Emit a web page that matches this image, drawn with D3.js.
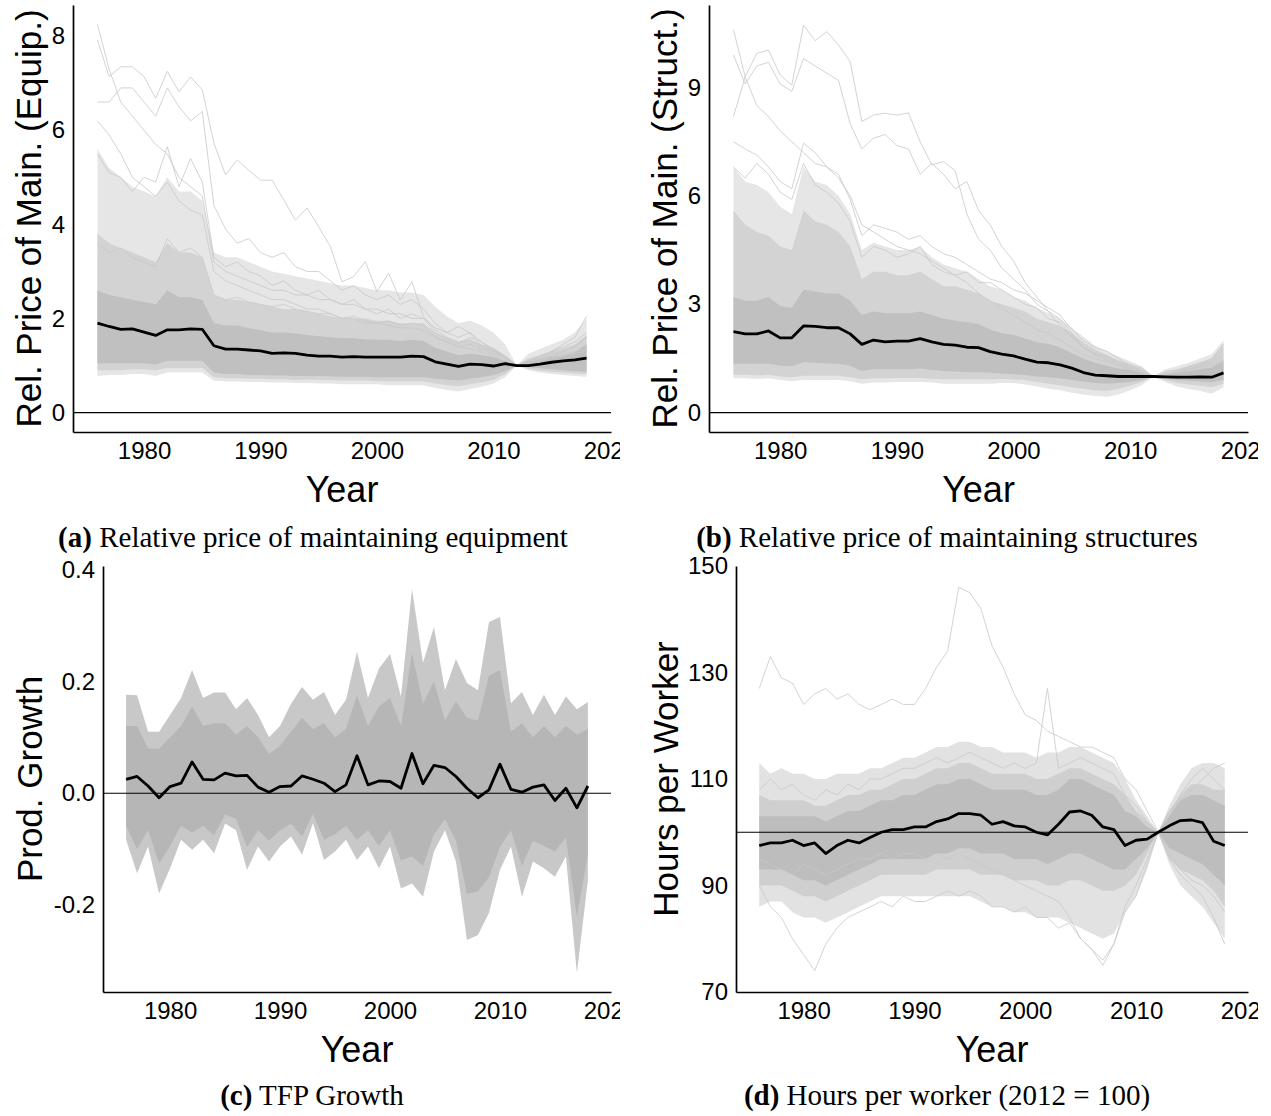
<!DOCTYPE html>
<html><head><meta charset="utf-8">
<script src="https://cdn.jsdelivr.net/npm/d3@7"></script>
<style>body{margin:0;background:#fff} svg{display:block}</style>
</head><body>
<svg id="chart" width="1271" height="1116"></svg>
<script>
// ---------- DATA ----------
const years = [1976,1977,1978,1979,1980,1981,1982,1983,1984,1985,1986,1987,1988,1989,1990,1991,1992,1993,1994,1995,1996,1997,1998,1999,2000,2001,2002,2003,2004,2005,2006,2007,2008,2009,2010,2011,2012,2013,2014,2015,2016,2017,2018];
const xTicks = [1980,1990,2000,2010,2020];
const yTicksA = [0,2,4,6,8];
const yTicksB = [0,3,6,9];
const yTicksC = [-0.2,0.0,0.2,0.4];
const yTicksD = [70,90,110,130,150];

// (a) equipment: cross-industry mean, spread bands (outer / middle / core) and a few individual industries
const meanA = [1.90,1.83,1.77,1.78,1.71,1.64,1.76,1.76,1.78,1.77,1.42,1.35,1.35,1.33,1.31,1.26,1.27,1.26,1.22,1.20,1.20,1.18,1.19,1.18,1.18,1.18,1.18,1.20,1.19,1.08,1.03,0.98,1.03,1.02,0.99,1.04,1.00,1.00,1.03,1.07,1.10,1.12,1.16];
const envLoA = [0.78,0.80,0.80,0.82,0.82,0.78,0.85,0.85,0.85,0.85,0.68,0.66,0.66,0.65,0.65,0.64,0.64,0.63,0.63,0.62,0.62,0.60,0.60,0.60,0.60,0.58,0.58,0.58,0.58,0.52,0.48,0.45,0.50,0.55,0.62,0.75,1.00,0.90,0.85,0.82,0.80,0.78,0.76];
const envHiA = [5.6,5.2,5.0,4.8,4.7,4.6,5.0,4.7,4.7,4.5,3.4,3.3,3.3,3.2,3.1,3.0,2.95,2.9,2.85,2.8,2.75,2.7,2.7,2.65,2.6,2.6,2.55,2.55,2.5,2.25,2.05,1.9,1.95,1.85,1.7,1.45,1.0,1.25,1.35,1.45,1.55,1.7,2.0];
const midLoA = [0.9,0.9,0.9,0.92,0.92,0.9,0.95,0.95,0.95,0.95,0.75,0.73,0.73,0.72,0.72,0.71,0.71,0.7,0.7,0.7,0.69,0.68,0.68,0.68,0.67,0.66,0.66,0.66,0.66,0.62,0.58,0.56,0.6,0.64,0.7,0.82,1.0,0.93,0.89,0.87,0.85,0.83,0.82];
const midHiA = [3.8,3.6,3.5,3.4,3.3,3.2,3.6,3.4,3.4,3.3,2.5,2.4,2.4,2.35,2.3,2.25,2.2,2.2,2.15,2.1,2.05,2.0,2.0,2.0,1.95,1.95,1.9,1.9,1.9,1.7,1.6,1.5,1.55,1.45,1.38,1.22,1.0,1.15,1.22,1.3,1.38,1.45,1.65];
const coreLoA = [1.05,1.05,1.05,1.05,1.05,1.02,1.10,1.10,1.10,1.10,0.85,0.82,0.82,0.80,0.80,0.79,0.79,0.78,0.78,0.78,0.77,0.76,0.76,0.76,0.75,0.75,0.75,0.75,0.75,0.72,0.70,0.68,0.72,0.75,0.80,0.88,1.00,0.97,0.94,0.92,0.90,0.88,0.87];
const coreHiA = [2.6,2.5,2.45,2.4,2.35,2.3,2.6,2.45,2.45,2.4,1.9,1.85,1.85,1.8,1.75,1.7,1.7,1.68,1.65,1.62,1.6,1.58,1.58,1.56,1.55,1.55,1.52,1.55,1.52,1.38,1.3,1.22,1.25,1.22,1.18,1.1,1.0,1.08,1.13,1.18,1.22,1.28,1.45];
const indA1 = [8.25,7.3,6.6,6.3,6.0,5.7,5.5,5.0,4.8,4.6,3.2,3.0,2.9,2.8,2.7,2.6,2.6,2.5,2.5,2.4,2.4,2.3,2.3,2.2,2.2,2.1,2.1,2.0,2.0,1.8,1.7,1.83,1.69,1.4,1.3,1.15,1.0,1.05,1.1,1.15,1.2,1.25,1.3];
const indA2 = [7.92,7.14,7.35,7.35,7.14,6.68,7.25,6.82,7.13,6.86,5.73,5.05,5.37,5.15,4.94,4.94,4.52,4.09,4.35,3.95,3.53,2.78,2.89,3.21,2.57,2.96,2.39,2.78,2.04,1.76,1.6,1.5,1.55,1.4,1.3,1.2,1.0,1.1,1.2,1.3,1.4,1.5,1.7];
const indA3 = [6.6,6.6,6.9,6.9,6.6,6.3,6.9,6.5,6.2,6.4,4.4,3.9,3.6,3.7,3.4,3.3,3.4,3.1,3.0,3.0,2.8,2.6,2.7,2.5,2.4,2.5,2.3,2.4,2.2,1.9,1.7,1.6,1.7,1.5,1.3,1.2,1.0,1.1,1.15,1.2,1.25,1.3,1.35];
const indA4 = [6.2,5.9,5.5,5.0,4.8,4.6,4.9,4.5,4.3,4.2,3.0,2.8,2.7,2.6,2.5,2.4,2.4,2.3,2.2,2.2,2.1,2.0,2.0,1.9,1.9,1.85,1.8,1.8,1.75,1.6,1.5,1.4,1.35,1.3,1.2,1.1,1.0,1.05,1.1,1.2,1.3,1.4,1.6];
const indA5 = [5.5,5.1,5.0,4.7,5.0,4.9,5.65,4.8,5.4,4.9,3.3,3.1,3.2,3.0,2.9,2.7,2.8,2.6,2.5,2.6,2.4,2.3,2.4,2.2,2.1,2.2,2.0,2.1,2.0,1.7,1.55,1.45,1.6,1.5,1.35,1.2,1.0,1.1,1.2,1.3,1.45,1.6,2.05];
const indA6 = [3.6,3.4,3.5,3.3,3.2,3.1,3.7,3.4,3.5,3.3,2.5,2.4,2.45,2.35,2.3,2.25,2.3,2.2,2.15,2.1,2.1,2.0,2.05,1.95,1.9,1.95,1.85,1.9,1.85,1.6,1.5,1.4,1.45,1.35,1.25,1.15,1.0,1.1,1.15,1.25,1.3,1.4,1.6];

// (b) structures
const meanB = [2.24,2.18,2.18,2.26,2.07,2.07,2.40,2.39,2.35,2.35,2.18,1.89,2.01,1.96,1.98,1.98,2.05,1.96,1.89,1.87,1.81,1.80,1.69,1.62,1.57,1.48,1.40,1.38,1.32,1.23,1.11,1.04,1.02,1.00,1.00,1.00,1.00,0.99,0.98,0.98,0.99,0.98,1.10];
const envLoB = [0.95,0.95,0.93,0.95,0.9,0.87,0.9,0.9,0.9,0.9,0.87,0.8,0.83,0.83,0.85,0.85,0.85,0.83,0.8,0.8,0.8,0.8,0.8,0.82,0.82,0.78,0.72,0.66,0.62,0.55,0.5,0.46,0.44,0.5,0.62,0.76,1.0,0.85,0.72,0.65,0.6,0.52,0.7];
const envHiB = [6.8,6.4,6.3,6.1,5.7,5.5,6.8,6.4,6.3,6.0,5.5,4.5,4.7,4.6,4.5,4.5,4.6,4.3,4.1,4.0,3.9,3.7,3.5,3.4,3.2,3.1,2.9,2.75,2.6,2.35,2.1,1.85,1.7,1.55,1.42,1.28,1.0,1.2,1.28,1.38,1.5,1.62,2.0];
const midLoB = [1.05,1.05,1.03,1.05,1.0,0.98,1.02,1.02,1.02,1.02,0.98,0.92,0.95,0.95,0.96,0.96,0.96,0.94,0.92,0.92,0.92,0.92,0.92,0.93,0.92,0.9,0.85,0.8,0.76,0.7,0.66,0.62,0.6,0.66,0.74,0.85,1.0,0.9,0.82,0.78,0.74,0.7,0.8];
const midHiB = [5.6,5.2,5.0,4.9,4.6,4.5,5.6,5.3,5.2,5.0,4.6,3.7,3.9,3.9,3.8,3.8,3.9,3.7,3.5,3.5,3.4,3.3,3.1,3.0,2.9,2.8,2.6,2.5,2.4,2.2,1.95,1.75,1.6,1.45,1.35,1.25,1.0,1.15,1.2,1.3,1.4,1.5,1.9];
const coreLoB = [1.35,1.35,1.35,1.35,1.3,1.28,1.4,1.38,1.36,1.35,1.3,1.15,1.2,1.2,1.2,1.2,1.22,1.18,1.15,1.14,1.12,1.12,1.1,1.08,1.06,1.04,1.0,0.98,0.95,0.9,0.86,0.82,0.8,0.82,0.85,0.9,1.0,0.95,0.9,0.88,0.86,0.84,0.9];
const coreHiB = [3.2,3.1,3.1,3.2,2.95,2.9,3.4,3.35,3.3,3.3,3.1,2.7,2.8,2.75,2.75,2.75,2.8,2.7,2.6,2.55,2.5,2.45,2.3,2.2,2.15,2.05,1.95,1.9,1.8,1.65,1.5,1.38,1.3,1.22,1.18,1.12,1.0,1.06,1.1,1.15,1.2,1.25,1.45];
const indB1 = [8.2,9.3,9.95,10.04,9.35,9.07,10.73,10.3,10.55,10.18,9.72,8.06,8.24,8.29,8.24,8.3,7.5,6.86,6.95,6.7,5.5,4.8,4.5,4.0,3.7,3.4,3.0,2.8,2.6,2.2,1.8,1.6,1.45,1.3,1.2,1.1,1.0,1.05,1.1,1.15,1.2,1.3,1.4];
const indB2 = [10.6,9.3,8.5,8.2,7.8,7.5,7.2,6.9,6.8,6.5,6.0,5.2,5.0,4.8,4.6,4.5,4.4,4.2,4.0,3.8,3.6,3.3,3.1,2.9,2.7,2.5,2.3,2.2,2.0,1.8,1.6,1.5,1.4,1.3,1.2,1.1,1.0,1.05,1.1,1.2,1.25,1.35,1.5];
const indB3 = [9.9,9.1,9.6,9.7,9.1,8.9,9.8,9.6,9.4,9.2,8.0,7.3,7.6,7.7,7.4,7.3,6.6,6.9,6.6,6.2,6.4,5.6,5.2,4.6,4.2,3.6,3.2,2.8,2.4,2.1,1.8,1.6,1.5,1.35,1.25,1.1,1.0,1.05,1.1,1.2,1.3,1.4,1.6];
const indB4 = [7.5,7.3,7.13,6.8,6.4,6.2,7.46,7.2,6.8,6.6,5.9,4.9,5.2,5.1,5.0,4.8,4.9,4.6,4.4,4.3,4.1,3.9,3.7,3.6,3.4,3.3,3.1,2.9,2.7,2.3,2.0,1.8,1.7,1.5,1.3,1.15,1.0,1.05,1.1,1.2,1.3,1.45,1.75];
const indB5 = [6.8,6.5,6.9,6.6,6.1,5.9,6.9,6.3,6.1,5.8,5.3,4.3,4.6,4.5,4.3,4.4,4.6,4.1,3.9,3.8,3.9,3.6,3.6,3.4,3.2,3.0,2.9,2.6,2.5,2.1,1.8,1.65,1.55,1.4,1.25,1.1,1.0,1.05,1.15,1.25,1.35,1.5,1.9];

// (c) TFP growth
const meanC = [0.025,0.030,0.013,-0.008,0.012,0.018,0.056,0.025,0.024,0.036,0.031,0.032,0.011,0.002,0.012,0.013,0.031,0.025,0.018,0.003,0.015,0.067,0.015,0.022,0.021,0.009,0.071,0.017,0.050,0.046,0.030,0.009,-0.008,0.006,0.052,0.007,0.002,0.011,0.015,-0.013,0.009,-0.026,0.013];
const envHiC = [0.176,0.175,0.11,0.11,0.14,0.17,0.22,0.17,0.18,0.18,0.15,0.17,0.14,0.10,0.12,0.16,0.19,0.167,0.181,0.14,0.167,0.253,0.17,0.223,0.249,0.173,0.365,0.233,0.297,0.184,0.24,0.197,0.184,0.306,0.315,0.161,0.181,0.14,0.176,0.14,0.173,0.15,0.163];
const envLoC = [-0.083,-0.143,-0.095,-0.179,-0.134,-0.083,-0.101,-0.083,-0.107,-0.054,-0.066,-0.137,-0.095,-0.122,-0.095,-0.077,-0.110,-0.053,-0.119,-0.104,-0.083,-0.119,-0.095,-0.134,-0.095,-0.170,-0.161,-0.185,-0.104,-0.066,-0.122,-0.262,-0.253,-0.214,-0.137,-0.095,-0.185,-0.122,-0.134,-0.149,-0.113,-0.321,-0.155];
const coreHiC = [0.12,0.12,0.08,0.08,0.10,0.12,0.155,0.12,0.125,0.125,0.105,0.12,0.10,0.07,0.085,0.11,0.135,0.115,0.125,0.10,0.115,0.175,0.12,0.155,0.17,0.12,0.25,0.16,0.2,0.13,0.165,0.135,0.13,0.21,0.22,0.11,0.125,0.1,0.12,0.1,0.12,0.105,0.115];
const coreLoC = [-0.058,-0.1,-0.066,-0.125,-0.094,-0.058,-0.07,-0.058,-0.075,-0.038,-0.046,-0.096,-0.066,-0.085,-0.066,-0.054,-0.077,-0.037,-0.083,-0.073,-0.058,-0.083,-0.066,-0.094,-0.066,-0.12,-0.113,-0.13,-0.073,-0.046,-0.085,-0.18,-0.175,-0.15,-0.096,-0.066,-0.13,-0.085,-0.094,-0.104,-0.079,-0.22,-0.108];

// (d) hours per worker
const meanD = [97.5,98,98,98.5,97.5,98,96,97.5,98.5,98,99,100,100.5,100.5,101,101,102,102.5,103.5,103.5,103.2,101.5,102,101.2,101,100,99.5,101.5,103.8,104,103.2,101,100.5,97.5,98.5,98.7,100,101.2,102.2,102.3,101.8,98.3,97.5];
const envLoD = [86,87,87,85,84,84,83,84,85,86,87,88,88,88,88,88,88,88,88,88,87,86,86,85,85,84,84,84,83,82,81,80,81,85,88,93,100,94,90,88,86,83,80];
const envHiD = [113,111,112,111,111,110,110,111,111,111,112,112,113,114,114,115,116,116,117,117,116,116,115,115,115,114,115,115,116,116,115,114,113,110,106,103,100,105,109,112,113,113,112];
const midLoD = [90,90,90,89,88,88,87,88,89,90,91,92,92,92,92,92,93,93,93,93,92,92,92,91,91,91,90,90,91,91,90,89,89,90,92,96,100,95,93,92,91,89,86];
const midHiD = [107,106,106,106,106,105,105,106,107,107,108,108,109,110,110,111,112,112,113,113,112,111,111,111,111,110,110,111,112,112,111,110,109,107,104,102,100,104,107,109,109,108,108];
const coreLoD = [93,93,93,92,91,91,90,91,92,93,94,95,95,95,95,95,96,96,97,97,96,96,96,95,95,95,94,95,96,96,95,94,93,93,95,97,100,97,96,95,94,92,90];
const coreHiD = [103,103,103,103,103,103,102,103,104,104,105,106,106,107,107,108,109,109,110,110,109,108,108,108,108,107,107,108,110,110,109,108,107,104,103,101,100,103,106,107,107,106,105];
const indD1 = [127,133,129,128,124,126,127,125,126,124,123,124,125,124,124,127,131,134,146,145,142,135,131,126,122,121,119,118,117,116,116,115,114,110,108,104,100,103,107,110,112,110,108];
const indD2 = [108,110,108,109,107,106,108,107,109,108,110,110,111,112,112,113,114,113,114,115,114,113,112,113,112,113,127,112,113,114,113,112,111,107,105,102,100,104,106,108,110,112,113];
const indD3 = [90,86,84,80,77,74,79,82,84,85,86,87,86,88,87,87,88,89,88,89,88,86,86,85,86,84,84,82,83,80,78,76,79,85,88,94,100,95,92,90,88,84,79];
const indD4 = [95,94,93,92,94,93,92,93,94,95,95,96,95,96,96,95,96,95,96,95,94,93,92,91,90,89,88,87,84,80,78,75,79,86,90,95,100,96,93,91,90,88,85];

// ---------- DRAWING ----------
const svg = d3.select('#chart');
const defs = svg.append('defs');
const SANS = "'Liberation Sans', Arial, sans-serif";
const SERIF = "'Liberation Serif', 'DejaVu Serif', serif";

const panels = [
  {id:'a', clip:[0,620], clipY:[0,515], left:73, right:611, top:5, bottom:432, yDomain:[-0.4125,8.6625],
   yTicks:yTicksA, fmt:d=>String(d), ref:0, ylab:'Rel. Price of Main. (Equip.)', ylabX:41,
   mean:meanA, bands:[[envLoA,envHiA,'#e6e6e6'],[midLoA,midHiA,'#d3d3d3'],[coreLoA,coreHiA,'#c0c0c0']],
   lines:[indA1,indA2,indA3,indA4,indA5,indA6]},
  {id:'b', clip:[636,1258], clipY:[0,515], left:709, right:1248, top:5, bottom:432, yDomain:[-0.5375,11.2875],
   yTicks:yTicksB, fmt:d=>String(d), ref:0, ylab:'Rel. Price of Main. (Struct.)', ylabX:677,
   mean:meanB, bands:[[envLoB,envHiB,'#e6e6e6'],[midLoB,midHiB,'#d3d3d3'],[coreLoB,coreHiB,'#c0c0c0']],
   lines:[indB1,indB2,indB3,indB4,indB5]},
  {id:'c', clip:[0,620], clipY:[555,1075], left:103, right:611, top:566, bottom:992, yDomain:[-0.355,0.406],
   yTicks:yTicksC, fmt:d=>d.toFixed(1), ref:0, ylab:'Prod. Growth', ylabX:42,
   mean:meanC, bands:[[envLoC,envHiC,'#c8c8c8'],[coreLoC,coreHiC,'#b6b6b6']], lines:[]},
  {id:'d', clip:[636,1258], clipY:[555,1075], left:736, right:1248, top:566, bottom:992, yDomain:[70,150],
   yTicks:yTicksD, fmt:d=>String(d), ref:100, ylab:'Hours per Worker', ylabX:678,
   mean:meanD, bands:[[envLoD,envHiD,'#e2e2e2'],[midLoD,midHiD,'#cfcfcf'],[coreLoD,coreHiD,'#bdbdbd']],
   lines:[indD1,indD2,indD3,indD4]}
];

panels.forEach(p => {
  defs.append('clipPath').attr('id','clip-'+p.id).append('rect')
    .attr('x',p.clip[0]).attr('y',p.clipY[0]).attr('width',p.clip[1]-p.clip[0]).attr('height',p.clipY[1]-p.clipY[0]);
  const g = svg.append('g').attr('clip-path','url(#clip-'+p.id+')');
  const x = d3.scaleLinear().domain([1973.9,2020.1]).range([p.left,p.right]);
  const y = d3.scaleLinear().domain(p.yDomain).range([p.bottom,p.top]);
  const band = (lo,hi) => d3.area().x((d,i)=>x(years[i])).y0((d,i)=>y(lo[i])).y1((d,i)=>y(hi[i]))(years);
  p.bands.forEach(b => g.append('path').attr('d',band(b[0],b[1])).attr('fill',b[2]));
  const line = d3.line().x((d,i)=>x(years[i])).y(d=>y(d));
  p.lines.forEach(s => g.append('path').attr('d',line(s)).attr('fill','none')
    .attr('stroke','#c8c8c8').attr('stroke-width',0.8));
  g.append('line').attr('x1',p.left).attr('x2',p.right).attr('y1',y(p.ref)).attr('y2',y(p.ref))
    .attr('stroke','#000').attr('stroke-width',1.2);
  g.append('path').attr('d',line(p.mean)).attr('fill','none').attr('stroke','#000')
    .attr('stroke-width',2.8).attr('stroke-linejoin','round');

  const xa = g.append('g').attr('transform',`translate(0,${p.bottom})`)
    .call(d3.axisBottom(x).tickValues(xTicks).tickSize(0).tickSizeOuter(0).tickPadding(10).tickFormat(d3.format('d')));
  const ya = g.append('g').attr('transform',`translate(${p.left},0)`)
    .call(d3.axisLeft(y).tickValues(p.yTicks).tickSize(0).tickSizeOuter(0).tickPadding(8).tickFormat(p.fmt));
  [xa,ya].forEach(a => {
    a.select('.domain').attr('stroke','#000').attr('stroke-width',1.7);
    a.selectAll('text').attr('font-family',SANS).attr('font-size',24).attr('fill','#000');
  });
  g.append('text').attr('x',(p.left+p.right)/2).attr('y',p.bottom+70).attr('text-anchor','middle')
    .attr('font-family',SANS).attr('font-size',36).text('Year');
  g.append('text').attr('transform',`translate(${p.ylabX},${(p.top+p.bottom)/2}) rotate(-90)`)
    .attr('text-anchor','middle').attr('font-family',SANS).attr('font-size',35).text(p.ylab);
});

const captions = [
  {x:313, y:547, tag:'(a)', txt:' Relative price of maintaining equipment'},
  {x:947, y:547, tag:'(b)', txt:' Relative price of maintaining structures'},
  {x:312, y:1105, tag:'(c)', txt:' TFP Growth'},
  {x:947, y:1105, tag:'(d)', txt:' Hours per worker (2012 = 100)'}
];
const capNodes = captions.map(c => {
  const t = svg.append('text').attr('x',c.x).attr('y',c.y).attr('text-anchor','middle')
    .attr('font-family',SERIF).attr('font-size',26).attr('fill','#000');
  t.append('tspan').attr('font-weight','bold').text(c.tag);
  t.append('tspan').text(c.txt);
  return t;
});
const w0 = capNodes[0].node().getComputedTextLength();
const fs = Math.max(22, Math.min(30, 26*510/w0));
capNodes.forEach(t => t.attr('font-size',fs));
</script>
</body></html>
